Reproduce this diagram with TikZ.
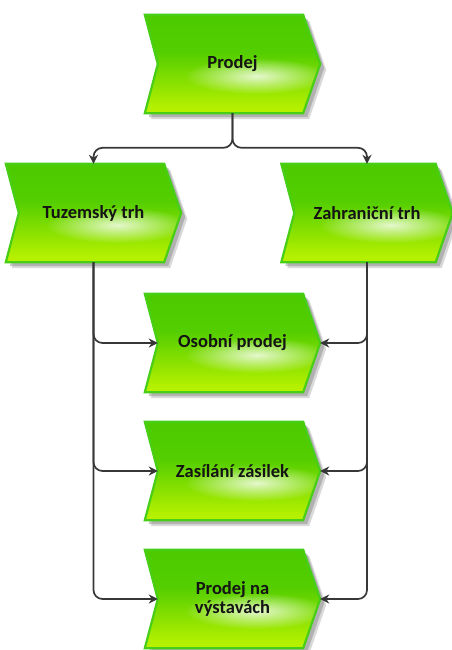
\documentclass[tikz,border=0pt]{standalone}
\usepackage{fontspec}
\setmainfont{Carlito}
\usetikzlibrary{arrows.meta,calc,backgrounds,fadings}

% colours of the function boxes
\definecolor{fnTop}{RGB}{62,198,0}
\definecolor{fnUpper}{RGB}{84,206,0}
\definecolor{fnLower}{RGB}{180,240,0}
\definecolor{fnBottom}{RGB}{212,250,10}
\definecolor{fnEdge}{RGB}{72,206,22}
\definecolor{lineGray}{RGB}{55,55,55}

\pgfdeclareverticalshading{fngreen}{100bp}{%
  color(0bp)=(fnBottom); color(28bp)=(fnLower); color(56bp)=(fnUpper); color(100bp)=(fnTop)}
\tikzfading[name=glossfade, inner color=transparent!0, outer color=transparent!100]

% outline of an EPC function box around node #1 (notch on the left, point on the right)
\newcommand\fnoutline[2]{%
  ($(#1.north west)+#2$) -- ($(#1.north east)+(-17,0)+#2$) -- ($(#1.east)+#2$) --
  ($(#1.south east)+(-17,0)+#2$) -- ($(#1.south west)+#2$) -- ($(#1.west)+(13,0)+#2$) -- cycle}

\newcommand\fnshape[1]{%
  \fill[black!50, opacity=.30] \fnoutline{#1}{(6,6)};
  \fill[black!50, opacity=.45] \fnoutline{#1}{(4,4)};
  \shade[shading=fngreen] \fnoutline{#1}{(0,0)};
  \begin{scope}
    \clip \fnoutline{#1}{(0,0)};
    \fill[white, path fading=glossfade, fill opacity=.8] ($(#1.center)+(24,12)$) ellipse (72pt and 18pt);
  \end{scope}
  \draw[fnEdge, line width=2.2pt, line join=miter] \fnoutline{#1}{(0,0)};
}

\tikzset{
  fn/.style={minimum width=175pt, minimum height=98pt, inner sep=0pt, align=center,
    font=\bfseries\fontsize{18.5}{19}\selectfont, text=black!92},
  conn/.style={draw=lineGray, line width=1.7pt, rounded corners=9pt,
    -{Stealth[length=9pt,width=9pt]}},
}

\begin{document}
\begin{tikzpicture}[x=1pt, y=-1pt]
  \useasboundingbox (0,0) rectangle (451,650);

  \node[fn] (prodej) at (232.5,64)  {Prodej};
  \node[fn] (tuz)    at (93.5,213)  {Tuzemský trh};
  \node[fn, minimum width=171pt] (zahr) at (367,213) {Zahraniční trh};
  \node[fn] (osob)   at (232.5,343) {Osobní prodej};
  \node[fn] (zas)    at (232.5,471) {Zasílání zásilek};
  \node[fn] (vyst)   at (232.5,599) {Prodej na\\výstavách};

  \begin{scope}[on background layer]
    \fnshape{prodej}
    \fnshape{tuz}
    \fnshape{zahr}
    \fnshape{osob}
    \fnshape{zas}
    \fnshape{vyst}
  \end{scope}

  % split from the top function to both markets
  \draw[conn] (prodej.south) |- ($(tuz.north)+(0,-16)$) -- (tuz.north);
  \draw[conn] (prodej.south) |- ($(zahr.north)+(0,-16)$) -- (zahr.north);

  % domestic market feeds every channel
  \draw[conn] (tuz.south) |- ($(osob.west)+(13,0)$);
  \draw[conn] (tuz.south) |- ($(zas.west)+(13,0)$);
  \draw[conn] (tuz.south) |- ($(vyst.west)+(13,0)$);

  % foreign market feeds every channel
  \draw[conn] (zahr.south) |- (osob.east);
  \draw[conn] (zahr.south) |- (zas.east);
  \draw[conn] (zahr.south) |- (vyst.east);
\end{tikzpicture}
\end{document}
